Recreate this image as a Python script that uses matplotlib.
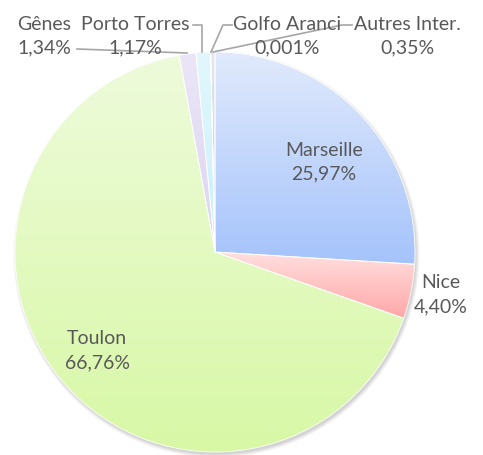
import numpy as np
import matplotlib
matplotlib.use('Agg')
import matplotlib.pyplot as plt
from matplotlib.colors import LinearSegmentedColormap
from matplotlib.patches import Circle

W, H = 483, 455
plt.rcParams['font.family'] = ['Lato', 'DejaVu Sans']

ports = ['Marseille', 'Nice', 'Toulon', 'Gênes', 'Porto Torres', 'Golfo Aranci', 'Autres Inter.']
parts = [25.97, 4.40, 66.76, 1.34, 1.17, 0.001, 0.35]
pct_txt = ['25,97%', '4,40%', '66,76%', '1,34%', '1,17%', '0,001%', '0,35%']

# gradient per slice: top colour, bottom colour
c_top = ['#e1eafb', '#ffe0e0', '#eefbdb', '#ebe6f7', '#e2f7fd', '#e3e6ea', '#e3e6ea']
c_bot = ['#a5c3fc', '#ffa7a7', '#d8f8a6', '#dcd4f1', '#c9f0fc', '#c9ced6', '#c9ced6']

# label positions in pixels (from top-left)
lab_pos = [(324, 162), (441, 295), (97, 351), (44, 36), (135, 36), (287, 36), (407, 36)]
# leader lines
leaders = [
    None, None, None,
    [(77, 49), (187, 53)],
    [(193, 25), (202, 25), (202, 52)],
    [(232, 25), (223, 25), (211, 52)],
    [(352, 25), (342, 25), (213, 52)],
]

cx, cy, r = 215, H - 252, 200

fig = plt.figure(figsize=(W / 100, H / 100), dpi=100)
ax = fig.add_axes([0, 0, 1, 1])

# soft shadow under the pie
for k, a in enumerate([0.05, 0.05, 0.06, 0.07]):
    ax.add_patch(Circle((cx + 1.5, cy - 2.5), r + 3 - k, color='#404040', alpha=a, lw=0, zorder=0))

wedges, _ = ax.pie(parts, startangle=90, counterclock=False, center=(cx, cy), radius=r,
                   wedgeprops=dict(edgecolor='white', linewidth=0.6), frame=True)

for w, c0, c1 in zip(wedges, c_top, c_bot):
    ext = w.get_path().get_extents()
    if ext.width < 0.5:
        w.set_facecolor(c1)
        continue
    cmap = LinearSegmentedColormap.from_list('g', [c0, c1])
    im = ax.imshow(np.linspace(0, 1, 256)[:, None], cmap=cmap, aspect='auto',
                   extent=(ext.x0, ext.x1, ext.y0, ext.y1), interpolation='bilinear', zorder=1)
    im.set_clip_path(w)
    w.set_facecolor('none')
    w.set_zorder(2)

for name, t, (px, py), ln in zip(ports, pct_txt, lab_pos, leaders):
    ax.text(px, H - py, name + '\n' + t, ha='center', va='center', fontsize=14,
            color='#595959', linespacing=1.5, zorder=4)
    if ln:
        xs = [p[0] for p in ln]
        ys = [H - p[1] for p in ln]
        ax.plot(xs, ys, color='#a6a6a6', lw=1.2, zorder=3)

ax.set_xlim(0, W)
ax.set_ylim(0, H)
ax.set_aspect('equal')
ax.axis('off')

fig.savefig('out.png', dpi=100)
